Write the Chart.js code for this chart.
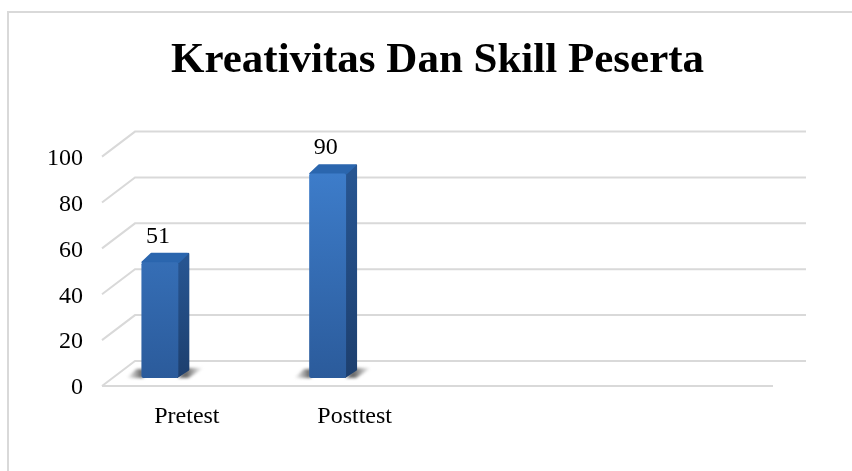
<!DOCTYPE html>
<html>
<head>
<meta charset="utf-8">
<script src="https://cdn.jsdelivr.net/npm/chart.js@4"></script>
<style>
    html, body { margin: 0; padding: 0; background: #fff; overflow: hidden; }
    #frame { position: absolute; left: 7px; top: 11px; right: 0; bottom: 0; border-left: 2px solid #d9d9d9; border-top: 2px solid #d9d9d9; }
    #wrap { position: absolute; left: 0; top: 0; width: 852px; height: 471px; }
</style>
</head>
<body>
<div id="frame"></div>
<div id="wrap"><canvas id="graph" width="852" height="471"></canvas></div>
<script>
const chartTitle = 'Kreativitas Dan Skill Peserta';
const categories = ['Pretest', 'Posttest', '', ''];
const values = [51, 90, null, null];
const yTicks = [0, 20, 40, 60, 80, 100];

// the fake 3d: wall sits up and right of the axes, bars sit between the two
const wall = { dx: 33, dy: 25 };
const barPlane = { dx: -26, dy: -8, sy: 0.99 };
const depth = { dx: 10, dy: 8.5 };
const lineColor = '#d9d9d9';

Chart.defaults.font.family = '"Liberation Serif", serif';
Chart.defaults.color = '#000';

function face(ctx, pts, fill) {
    ctx.beginPath();
    pts.forEach((p, i) => i ? ctx.lineTo(p[0], p[1]) : ctx.moveTo(p[0], p[1]));
    ctx.closePath();
    ctx.fillStyle = fill;
    ctx.fill();
    ctx.lineJoin = 'round';
    ctx.lineWidth = 2;
    ctx.strokeStyle = fill;
    ctx.stroke();
}

function vGrad(ctx, y0, y1, c0, c1) {
    const g = ctx.createLinearGradient(0, y0, 0, y1);
    g.addColorStop(0, c0);
    g.addColorStop(1, c1);
    return g;
}

function floorShadow(ctx, bar) {
    const l = bar.x - bar.width / 2, r = bar.x + bar.width / 2, b = bar.base;
    ctx.save();
    ctx.filter = 'blur(1.5px)';
    let g = ctx.createLinearGradient(l - 15, 0, l, 0);
    g.addColorStop(0, 'rgba(110,110,110,0)');
    g.addColorStop(1, 'rgba(80,80,80,0.85)');
    ctx.fillStyle = g;
    ctx.beginPath();
    ctx.moveTo(l - 15, b);
    ctx.lineTo(l + 2, b);
    ctx.lineTo(l + 2, b - 9);
    ctx.lineTo(l - 5, b - 9);
    ctx.closePath();
    ctx.fill();
    g = ctx.createLinearGradient(r + 8, 0, r + 25, 0);
    g.addColorStop(0, 'rgba(80,80,80,0.85)');
    g.addColorStop(1, 'rgba(110,110,110,0)');
    ctx.fillStyle = g;
    ctx.beginPath();
    ctx.moveTo(r, b);
    ctx.lineTo(r + 10, b);
    ctx.lineTo(r + 25, b - 10);
    ctx.lineTo(r + 8, b - 10);
    ctx.closePath();
    ctx.fill();
    ctx.restore();
}

const wallPlugin = {
    id: 'wall',
    beforeDatasetsDraw(chart) {
        const { ctx, chartArea: a, scales: { y } } = chart;
        ctx.save();
        ctx.strokeStyle = lineColor;
        ctx.lineWidth = 2;
        ctx.beginPath();
        yTicks.forEach(t => {
            const py = y.getPixelForValue(t);
            ctx.moveTo(a.left, py);
            ctx.lineTo(a.left + wall.dx, py - wall.dy);
            ctx.lineTo(a.right + wall.dx, py - wall.dy);
        });
        ctx.moveTo(a.left, a.bottom);
        ctx.lineTo(a.right, a.bottom);
        ctx.stroke();
        ctx.restore();
    }
};

const barsPlugin = {
    id: 'bars3d',
    beforeDatasetsDraw(chart) {
        const ctx = chart.ctx, bars = chart.getDatasetMeta(0).data;
        const base = chart.chartArea.bottom;
        ctx.save();
        ctx.translate(barPlane.dx, barPlane.dy + base);
        ctx.scale(1, barPlane.sy);
        ctx.translate(0, -base);
        values.forEach((v, i) => {
            if (v === null) return;
            const bar = bars[i];
            const l = bar.x - bar.width / 2, r = bar.x + bar.width / 2;
            floorShadow(ctx, bar);
            face(ctx, [[r - 1, bar.y], [r + depth.dx, bar.y - depth.dy], [r + depth.dx, bar.base - depth.dy], [r - 1, bar.base - 1]],
                vGrad(ctx, bar.y, bar.base, '#275591', '#1d3f6e'));
            face(ctx, [[l + 1, bar.y], [l + depth.dx, bar.y - depth.dy], [r + depth.dx - 1, bar.y - depth.dy], [r, bar.y]], '#2b66ae');
        });
    },
    afterDatasetsDraw(chart) {
        const ctx = chart.ctx, bars = chart.getDatasetMeta(0).data;
        ctx.restore();
        ctx.save();
        ctx.font = '24px "Liberation Serif"';
        ctx.fillStyle = '#000';
        ctx.textAlign = 'center';
        ctx.textBaseline = 'middle';
        values.forEach((v, i) => {
            if (v === null) return;
            ctx.fillText(v, bars[i].x + barPlane.dx - 2, bars[i].y + barPlane.dy - 24);
        });
        ctx.restore();
    }
};

new Chart(document.getElementById('graph'), {
    type: 'bar',
    data: {
        labels: categories,
        datasets: [{
            data: values,
            barPercentage: 0.22,
            categoryPercentage: 1,
            borderRadius: 2,
            borderSkipped: false,
            backgroundColor: c => {
                const a = c.chart.chartArea;
                if (!a) return '#3470b8';
                return vGrad(c.chart.ctx, a.top, a.bottom, '#3f80cf', '#2b5b9b');
            }
        }]
    },
    options: {
        responsive: false,
        animation: false,
        layout: { padding: { left: 0, right: 79, top: 0, bottom: 0 } },
        plugins: {
            legend: { display: false },
            tooltip: { enabled: false },
            title: {
                display: true,
                text: chartTitle,
                fullSize: false,
                font: { size: 43, weight: 'bold' },
                padding: { top: 35, bottom: 70 }
            }
        },
        scales: {
            x: {
                grid: { display: false },
                border: { display: false },
                ticks: { font: { size: 24 }, padding: 8, labelOffset: 1, maxRotation: 0, autoSkip: false },
                afterFit: s => { s.height = 85; }
            },
            y: {
                min: 0,
                max: 100,
                afterBuildTicks: s => { s.ticks = yTicks.map(v => ({ value: v })); },
                grid: { display: false },
                border: { display: false },
                ticks: { font: { size: 24 }, padding: 11, labelOffset: 2 },
                afterFit: s => { s.width = 102; }
            }
        }
    },
    plugins: [wallPlugin, barsPlugin]
});
</script>
</body>
</html>
